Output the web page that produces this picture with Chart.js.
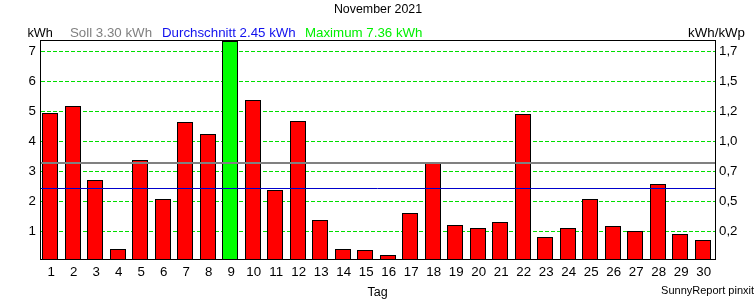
<!DOCTYPE html>
<html>
<head>
<meta charset="utf-8">
<script src="https://cdn.jsdelivr.net/npm/chart.js@4/dist/chart.umd.min.js"></script>
<style>
  html, body { margin: 0; padding: 0; background: #fff; }
  #c { display: block; }
</style>
</head>
<body>
<canvas id="c" width="756" height="300"></canvas>
<script>
// ---- data ----
const days = ['1','2','3','4','5','6','7','8','9','10','11','12','13','14','15',
              '16','17','18','19','20','21','22','23','24','25','26','27','28','29','30'];
const energyKWh = [4.97, 5.18, 2.71, 0.43, 3.37, 2.08, 4.67, 4.24, 7.36, 5.40,
                   2.40, 4.70, 1.37, 0.40, 0.37, 0.23, 1.63, 3.31, 1.23, 1.10,
                   1.30, 4.93, 0.80, 1.10, 2.08, 1.17, 1.03, 2.60, 0.93, 0.73];
const sollKWh = 3.30;
const avgKWh = 2.45;
const maxKWh = 7.36;
const yTicks = [1, 2, 3, 4, 5, 6, 7];
const kwpTickLabels = ['0,2', '0,5', '0,7', '1,0', '1,2', '1,5', '1,7'];
const titleText = 'November 2021';
const headerLeft = 'kWh';
const headerRight = 'kWh/kWp';
const sollText = 'Soll 3.30 kWh';
const avgText = 'Durchschnitt 2.45 kWh';
const maxText = 'Maximum 7.36 kWh';
const xTitle = 'Tag';
const footerText = 'SunnyReport pinxit';

const FONT = "'Liberation Sans', Arial, sans-serif";
Chart.defaults.font.family = FONT;
Chart.defaults.font.size = 12;
Chart.defaults.color = '#000';

const barColors = energyKWh.map(v => v === maxKWh ? '#00ff00' : '#ff0000');

const decor = {
  id: 'decor',
  beforeDraw(chart) {
    const ctx = chart.ctx;
    ctx.save();
    ctx.fillStyle = '#fff';
    ctx.fillRect(0, 0, chart.width, chart.height);
    ctx.restore();
  },
  beforeDatasetsDraw(chart) {
    // snap bar geometry (computed by the scales) to whole pixels for crisp outlines
    chart.getDatasetMeta(0).data.forEach(el => {
      el.x = Math.round(el.x - 0.9);
      el.width = 16;
      el.y = Math.round(el.y);
      el.base = Math.round(el.base);
    });
  },
  afterDatasetsDraw(chart) {
    const ctx = chart.ctx;
    const a = chart.chartArea;
    const y = chart.scales.y;
    ctx.save();
    // average line
    ctx.strokeStyle = '#0000cc';
    ctx.lineWidth = 1;
    const ya = Math.round(y.getPixelForValue(avgKWh)) + 0.5;
    ctx.beginPath(); ctx.moveTo(a.left, ya); ctx.lineTo(a.right, ya); ctx.stroke();
    // soll line
    ctx.strokeStyle = '#808080';
    ctx.lineWidth = 2;
    const ys = Math.round(y.getPixelForValue(sollKWh));
    ctx.beginPath(); ctx.moveTo(a.left, ys); ctx.lineTo(a.right + 1, ys); ctx.stroke();
    // frame
    ctx.strokeStyle = '#000';
    ctx.lineWidth = 1;
    ctx.strokeRect(Math.round(a.left) + 0.5, Math.round(a.top) - 0.5,
                   Math.round(a.right - a.left), Math.round(a.bottom - a.top) + 1);
    ctx.restore();
  },
  afterDraw(chart) {
    const ctx = chart.ctx;
    ctx.save();
    ctx.textBaseline = 'alphabetic';
    ctx.textAlign = 'center';
    ctx.fillStyle = '#000';
    ctx.font = '12.4px ' + FONT;
    ctx.fillText(titleText, 378, 12.5);
    ctx.textAlign = 'left';
    ctx.font = '12.7px ' + FONT;
    ctx.fillText(headerLeft, 27.5, 37);
    ctx.font = '13.3px ' + FONT;
    ctx.fillStyle = '#808080';
    ctx.fillText(sollText, 70, 37);
    ctx.fillStyle = '#1010ee';
    ctx.fillText(avgText, 162, 37);
    ctx.fillStyle = '#00f000';
    ctx.fillText(maxText, 305, 37);
    ctx.textAlign = 'right';
    ctx.fillStyle = '#000';
    ctx.fillText(headerRight, 745, 37);
    ctx.font = '11px ' + FONT;
    ctx.fillText(footerText, 754, 294);
    ctx.restore();
  }
};

new Chart(document.getElementById('c'), {
  type: 'bar',
  data: {
    labels: days,
    datasets: [{
      data: energyKWh,
      backgroundColor: barColors,
      borderColor: '#000',
      borderWidth: 1,
      borderSkipped: false,
      barPercentage: 0.71,
      categoryPercentage: 1.0
    }]
  },
  options: {
    responsive: false,
    animation: false,
    devicePixelRatio: 1,
    layout: { padding: { top: 41, left: 0, right: 0, bottom: 0 } },
    plugins: { legend: { display: false }, tooltip: { enabled: false }, title: { display: false } },
    scales: {
      x: {
        type: 'category',
        offset: true,
        grid: { display: false, drawTicks: false, tickLength: 0 },
        border: { display: false },
        ticks: { padding: 5, maxRotation: 0, autoSkip: false, color: '#000', font: { size: 13.3 } },
        title: { display: true, text: xTitle, color: '#000', font: { size: 12.5 }, padding: { top: 1, bottom: 0 } },
        afterFit(s) { s.height = 40.7; }
      },
      y: {
        position: 'left',
        min: 0.07,
        max: maxKWh,
        afterBuildTicks(s) { s.ticks = yTicks.map(v => ({ value: v })); },
        grid: { display: true, color: '#00dd00', lineWidth: 1, drawTicks: false, tickLength: 0 },
        border: { display: true, color: '#000', width: 1, dash: [4, 2] },
        ticks: { padding: 4, color: '#000', font: { size: 13.3 }, callback: v => String(v) },
        afterFit(s) { s.width = 40; }
      },
      y2: {
        position: 'right',
        min: 0.07,
        max: maxKWh,
        afterBuildTicks(s) { s.ticks = yTicks.map(v => ({ value: v })); },
        grid: { display: false, drawTicks: false, tickLength: 0 },
        border: { display: true, color: '#000', width: 1 },
        ticks: { padding: 4, color: '#000', font: { size: 13.3 },
                 callback: (v) => kwpTickLabels[yTicks.indexOf(v)] },
        afterFit(s) { s.width = 41; }
      }
    }
  },
  plugins: [decor]
});
</script>
</body>
</html>
